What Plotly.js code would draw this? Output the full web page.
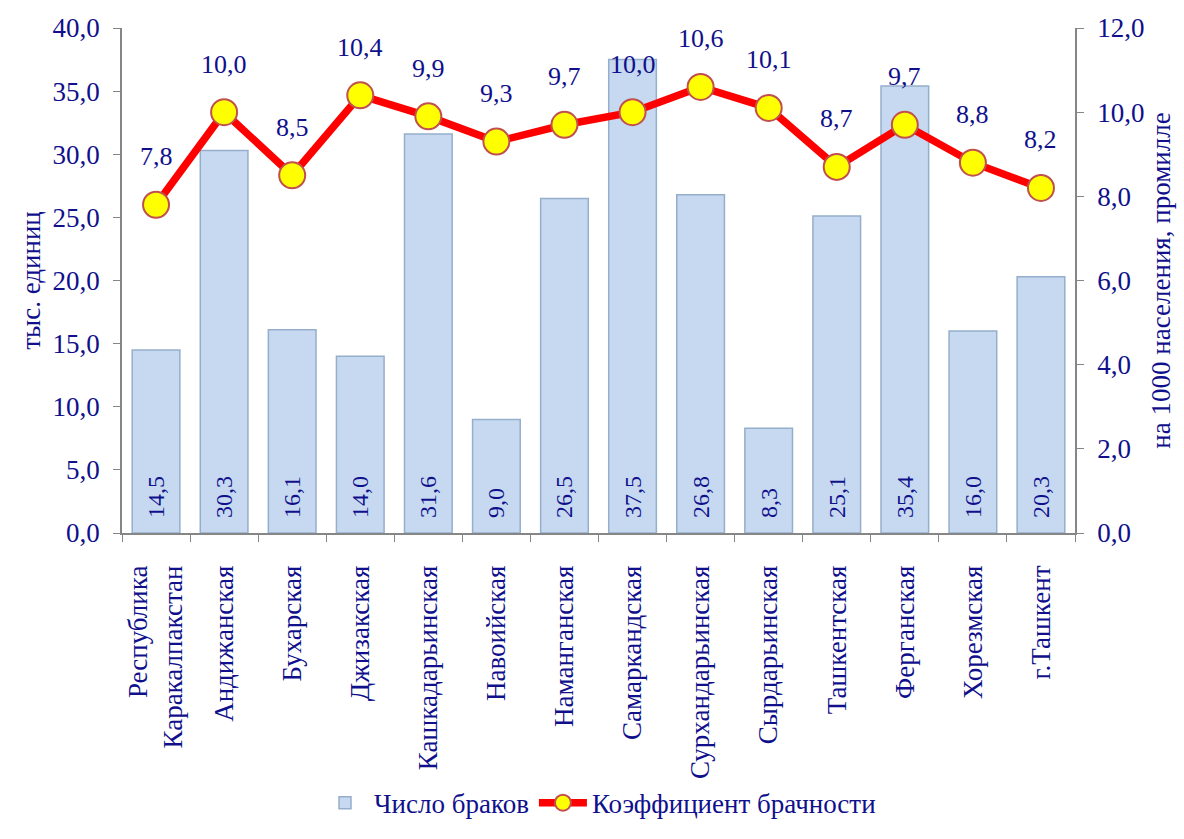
<!DOCTYPE html>
<html><head><meta charset="utf-8">
<script src="https://cdn.plot.ly/plotly-3.0.1.min.js"></script>
<style>body{margin:0;background:#fff}#chart{width:1184px;height:839px}</style>
</head><body><div id="chart"></div>
<script>
var categories = ["Республика<br>Каракалпакстан","Андижанская","Бухарская","Джизакская","Кашкадарьинская","Навоийская","Наманганская","Самаркандская","Сурхандарьинская","Сырдарьинская","Ташкентская","Ферганская","Хорезмская","г.Ташкент"];
var marriages = [14.5,30.3,16.1,14.0,31.6,9.0,26.5,37.5,26.8,8.3,25.1,35.4,16.0,20.3];
var rate = [7.8,10.0,8.5,10.4,9.9,9.3,9.7,10.0,10.6,10.1,8.7,9.7,8.8,8.2];
var leftTicks = [0,5,10,15,20,25,30,35,40];
var rightTicks = [0,2,4,6,8,10,12];

function fmt(v){return v.toFixed(1).replace('.', ',');}
var navy = '#10108c';
var fontFam = '"Liberation Serif", "Times New Roman", serif';
var fs = 27;

var bars = {
  type:'bar', x:categories, y:marriages, name:'Число браков',
  marker:{color:'#c6d9f1', line:{color:'#95aecb', width:1.5}},
  text: marriages.map(function(v){return '\u2002' + fmt(v);}), textposition:'inside', insidetextanchor:'start',
  textangle:-90, textfont:{family:fontFam, size:24, color:navy},
  hoverinfo:'skip'
};
var line = {
  type:'scatter', mode:'lines+markers', x:categories, y:rate, yaxis:'y2',
  name:'Коэффициент брачности',
  line:{color:'#ff0000', width:7.5},
  marker:{color:'#ffff00', size:26, line:{color:'#c0504d', width:2}},
  hoverinfo:'skip'
};
var annotations = rate.map(function(v,i){
  return {x:categories[i], y:v, xref:'x', yref:'y2', text:fmt(v), showarrow:false,
    yshift:48, font:{family:fontFam, size:26, color:navy}};
});
var axLine = {showline:true, linecolor:'#868686', linewidth:1.5, ticks:'outside', ticklen:7, tickcolor:'#868686', showgrid:false};
var layout = {
  width:1184, height:839,
  margin:{l:122, r:109, t:28, b:291},
  paper_bgcolor:'#fff', plot_bgcolor:'#fff',
  font:{family:fontFam, size:fs, color:navy},
  bargap:0.3, showlegend:true,
  legend:{orientation:'h', x:0.5, xanchor:'center', y:-0.535, yanchor:'middle', itemwidth:48, font:{size:fs, color:navy}},
  xaxis:Object.assign({}, axLine, {range:[-0.5,13.5], tickangle:-90, tickson:'boundaries', ticklabelstandoff:20, tickfont:{size:fs, color:navy}}),
  yaxis:Object.assign({}, axLine, {range:[0,40], tickvals:leftTicks, ticktext:leftTicks.map(fmt), zeroline:false, ticklabelstandoff:8,
    title:{text:'тыс. единиц', font:{size:fs, color:navy}, standoff:4}}),
  yaxis2:Object.assign({}, axLine, {range:[0,12], tickvals:rightTicks, ticktext:rightTicks.map(fmt), overlaying:'y', side:'right', zeroline:false, ticklabelstandoff:8,
    title:{text:'на 1000 населения, промилле', font:{size:fs, color:navy}, standoff:8}}),
  annotations:annotations
};
Plotly.newPlot('chart',[bars,line],layout,{displayModeBar:false});
</script></body></html>
